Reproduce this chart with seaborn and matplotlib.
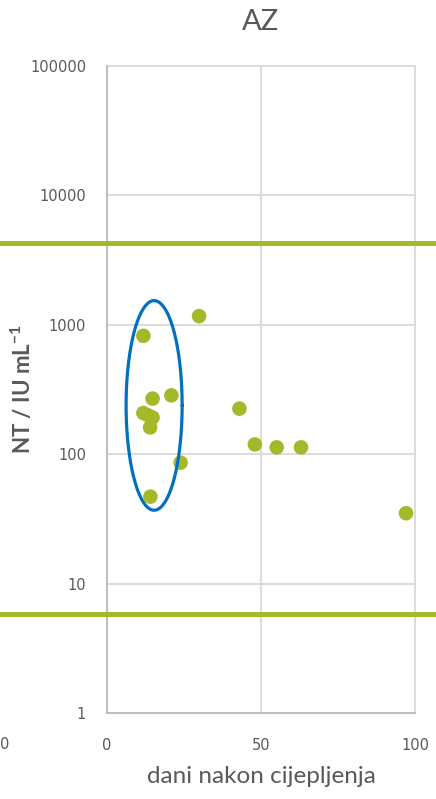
import matplotlib
matplotlib.use("Agg")
import matplotlib.pyplot as plt
import numpy as np
import pandas as pd
import seaborn as sns

# data
days = [11.8, 29.9, 14.8, 20.9, 11.8, 13.3, 14.8, 14.0, 23.9, 14.1, 43.0, 48.0, 55.1, 63.0, 97.1]
titre = [822, 1167, 269, 285, 208, 200, 192, 161, 86, 47, 225, 119, 113, 113, 35]
upper_limit = 4300
lower_limit = 5.8
# blue ring around the early cluster (x centre, x half width, log10 y centre, log10 half height)
ring = [15.3, 9.1, 2.377, 0.81]
yticks = [1, 10, 100, 1000, 10000, 100000]
xticks = [0, 50, 100]

green = "#a5b82a"
blue = "#0070c0"
grey = "#595959"

sns.set_style("white")
plt.rcParams['font.family'] = ['Lato', 'DejaVu Sans']
plt.rcParams['mathtext.default'] = 'regular'

df = pd.DataFrame({"dani": days, "NT": titre})

fig = plt.figure(figsize=(4.36, 7.99), dpi=100)
ax = fig.add_axes([0.2454, 0.1076, 0.7064, 0.8098])

sns.scatterplot(data=df, x="dani", y="NT", color=green, s=110, edgecolor="none", ax=ax, zorder=3)

ax.set_yscale("log")
ax.set_ylim(1, 100000)
ax.set_xlim(0, 100)
ax.set_yticks(yticks)
ax.set_yticklabels([str(v) for v in yticks])
ax.set_xticks(xticks)
ax.minorticks_off()
ax.tick_params(axis="both", length=0, labelsize=10.5, colors=grey,
               labelfontfamily="DejaVu Sans")
ax.tick_params(axis="y", pad=15)
ax.tick_params(axis="x", pad=18)

ax.grid(True, color="#d9d9d9", linewidth=1.3)
for gl in ax.get_xgridlines() + ax.get_ygridlines():
    gl.set_clip_on(False)
for s in ["top", "right"]:
    ax.spines[s].set_visible(False)
for s in ["left", "bottom"]:
    ax.spines[s].set_color("#bfbfbf")
    ax.spines[s].set_linewidth(1.5)

# limit lines run across the full picture
for lim in [upper_limit, lower_limit]:
    ax.axhline(lim, xmin=-0.35, xmax=1.07, color=green, linewidth=3.6, clip_on=False, zorder=4)

t = np.linspace(0, 2 * np.pi, 300)
ax.plot(ring[0] + ring[1] * np.cos(t), 10 ** (ring[2] + ring[3] * np.sin(t)),
        color=blue, linewidth=2.3, zorder=5)

ax.set_title("AZ", fontsize=21, color=grey, pad=26)
ax.set_xlabel("dani nakon cijepljenja", fontsize=17.5, color=grey, labelpad=9)
ax.set_ylabel(r"NT / IU mL$^{-1}$", fontsize=16, fontweight="bold", color=grey)
ax.yaxis.set_label_coords(-0.234, 0.5)

# tick label of the neighbouring panel, cut off at the left edge
fig.text(0.0, 0.068, "0", fontsize=10.5, color=grey, ha="left", va="center", family="DejaVu Sans")

fig.savefig("out.png", dpi=100)
